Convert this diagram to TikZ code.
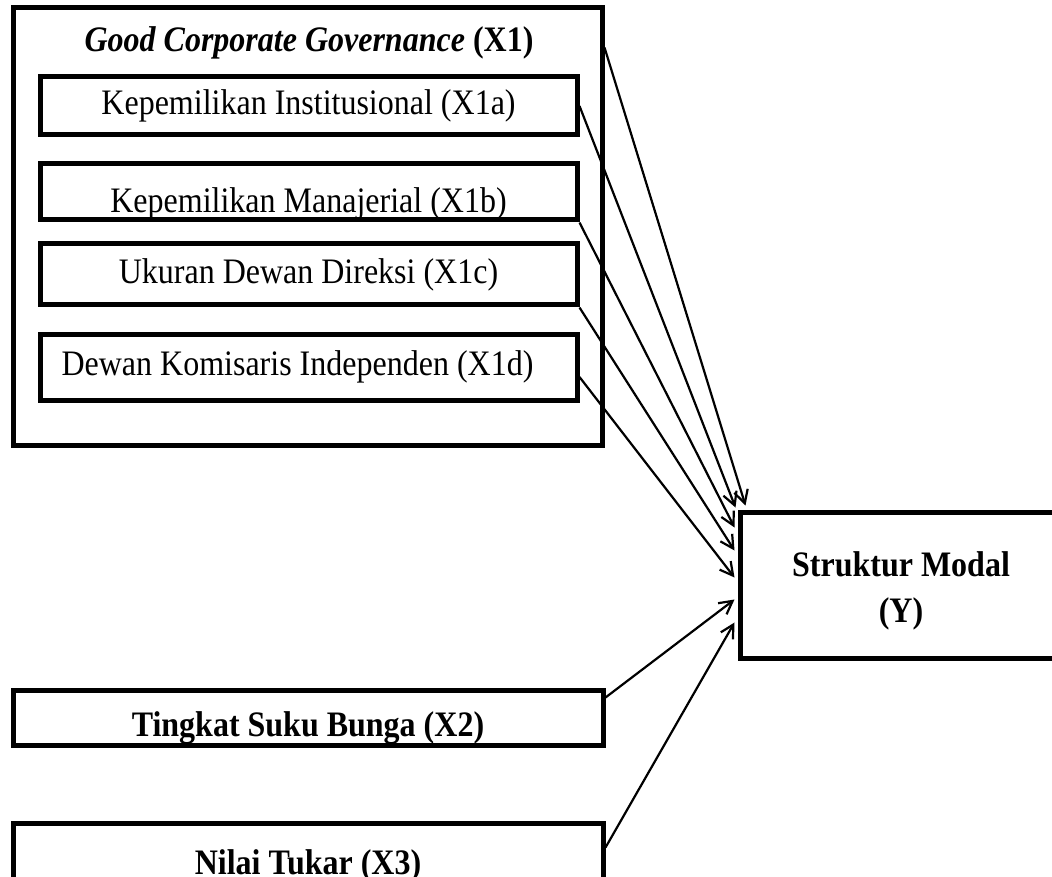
\documentclass[tikz,border=0pt]{standalone}
\usepackage{fontspec}
\setmainfont{Liberation Serif}
\usetikzlibrary{arrows.meta}
\newcommand\tallword[1]{\scalebox{1}[1.12]{#1}}
\tikzset{
  varbox/.style={draw, line width=5pt, inner sep=0pt, font=\fontsize{32}{46}\selectfont},
  link/.style={line width=2.2pt, -{Straight Barb[length=13pt, width=14pt]}}
}

\begin{document}
\begin{tikzpicture}[x=1pt, y=-1pt]
  \useasboundingbox (0,0) rectangle (1052,877);
  % Good Corporate Governance block
  \node[varbox, minimum width=589pt, minimum height=437pt] (gcg) at (307.5,226.5) {};
  \node[font=\fontsize{32}{46}\selectfont\bfseries] (gcgtitle) at (309,43) {\tallword{\textit{Good Corporate Governance} (X1)}};
  \node[varbox, minimum width=537pt, minimum height=58pt] (x1a) at (308.5,106) {\tallword{Kepemilikan Institusional (X1a)}};
  \node[varbox, minimum width=537pt, minimum height=56pt, text height=42pt, text depth=0pt] (x1b) at (308.5,192) {\tallword{Kepemilikan Manajerial (X1b)}};
  \node[varbox, minimum width=537pt, minimum height=61pt] (x1c) at (308.5,274.5) {\tallword{Ukuran Dewan Direksi (X1c)}};
  \node[varbox, minimum width=537pt, minimum height=66pt] (x1d) at (308.5,367) {\tallword{Dewan Komisaris Independen (X1d)}\rule{22pt}{0pt}};
  % other variables
  \node[varbox, font=\fontsize{32}{46}\selectfont\bfseries, minimum width=590pt, minimum height=55pt, text height=38pt, text depth=0pt] (x2) at (308,717.5) {\tallword{Tingkat Suku Bunga (X2)}};
  \node[varbox, font=\fontsize{32}{46}\selectfont\bfseries, minimum width=590pt, minimum height=59pt, text height=44pt, text depth=0pt] (x3) at (308,852.5) {\tallword{Nilai Tukar (X3)}};
  \node[varbox, font=\fontsize{32}{46}\selectfont\bfseries, align=center, minimum width=322pt, minimum height=146pt] (y) at (901,585) {\rule{0pt}{36pt}\tallword{Struktur Modal}\\\tallword{(Y)}};
  % arrows into Y
  \draw[link] ([yshift=179pt]gcg.east) -- ([xshift=8pt,yshift=4pt]y.north west);
  \draw[link] (x1a.east) -- ([xshift=-2pt,yshift=2pt]y.north west);
  \draw[link] (x1b.south east) -- ([xshift=-3pt,yshift=-18pt]y.north west);
  \draw[link] (x1c.south east) -- ([xshift=-3pt,yshift=-41pt]y.north west);
  \draw[link] ([yshift=-10pt]x1d.east) -- ([xshift=-3pt,yshift=-68pt]y.north west);
  \draw[link] ([yshift=20pt]x2.east) -- ([xshift=-3pt,yshift=-90pt]y.north west);
  \draw[link] ([yshift=5pt]x3.east) -- ([xshift=-3pt,yshift=-113pt]y.north west);
\end{tikzpicture}
\end{document}
